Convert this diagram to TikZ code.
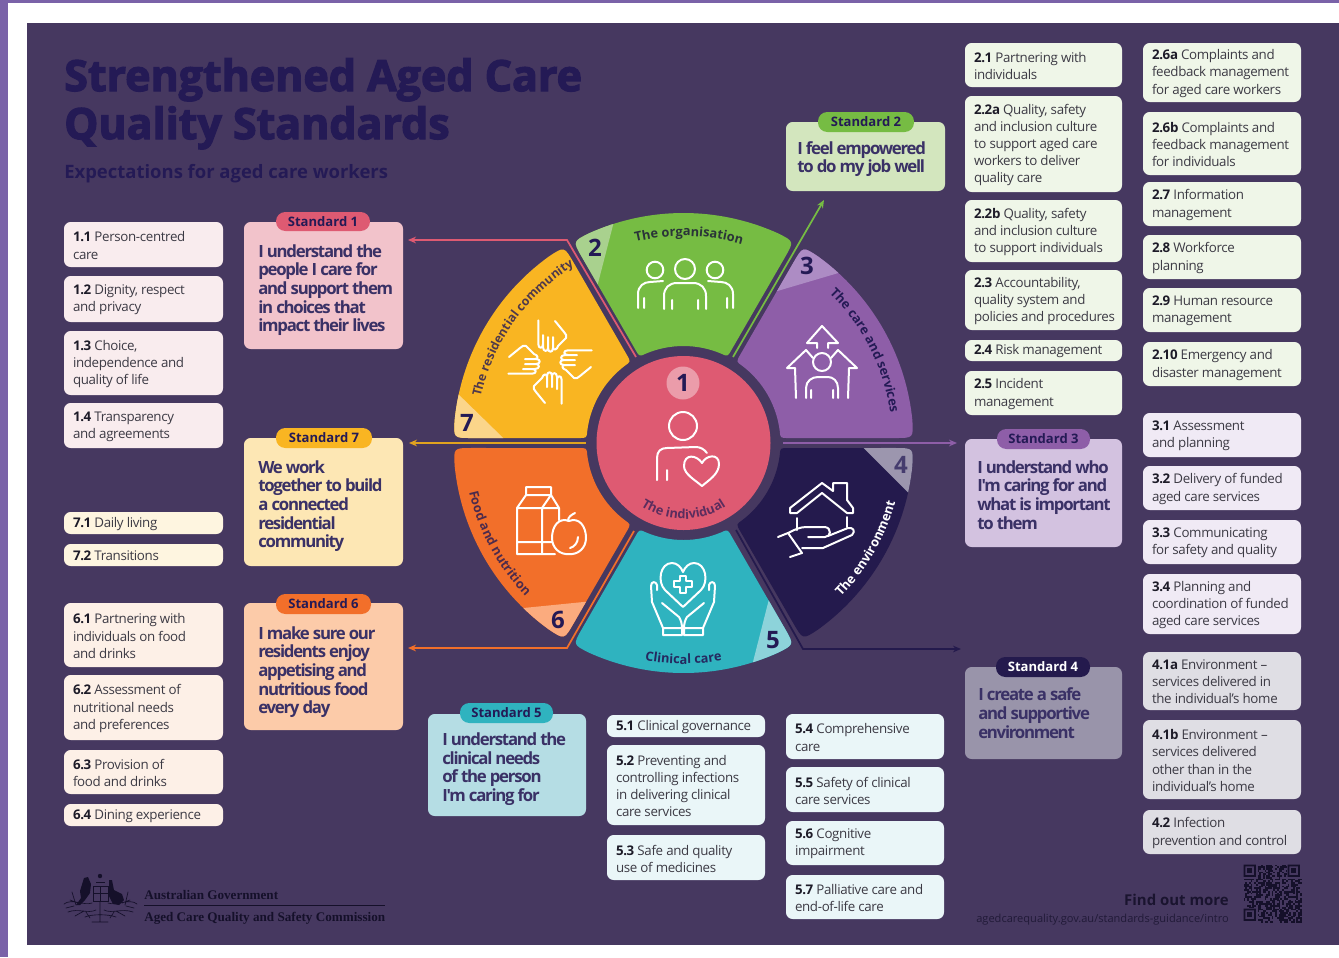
\documentclass[tikz,border=0pt]{standalone}
\usepackage{fontspec}
\setmainfont{Open Sans}[LetterSpace=-2.6]
\newfontfamily\plainf{Open Sans}
\newfontfamily\bigf{Open Sans}[LetterSpace=-7.5]
\newfontfamily\titlef{Open Sans}[FakeBold=3]
\newfontfamily\serifbold{Liberation Serif}
\usetikzlibrary{arrows.meta,decorations.text}
\definecolor{panel}{HTML}{463860}
\definecolor{navy}{HTML}{241A55}
\definecolor{band}{HTML}{7A62A8}
\definecolor{cred}{HTML}{DE5A72}
\definecolor{cgreen}{HTML}{76BC43}
\definecolor{cpurple}{HTML}{8E5EA8}
\definecolor{cyellow}{HTML}{F9B522}
\definecolor{corange}{HTML}{F26F2A}
\definecolor{cteal}{HTML}{2FB3BF}
\definecolor{cdark}{HTML}{241A4D}
\definecolor{lgreen}{HTML}{A9D18E}
\definecolor{lpurple}{HTML}{AD8CC4}
\definecolor{lyellow}{HTML}{FBD58A}
\definecolor{lorange}{HTML}{FBAB7E}
\definecolor{lteal}{HTML}{8DD3DA}
\definecolor{ldark}{HTML}{9C96AE}
\definecolor{bpink}{HTML}{F9ECEE}
\definecolor{byellow}{HTML}{FEF5E0}
\definecolor{bpeach}{HTML}{FDF0E7}
\definecolor{bteal}{HTML}{EAF6F8}
\definecolor{bgreen}{HTML}{EFF6E8}
\definecolor{bpurple}{HTML}{F0EAF5}
\definecolor{bgrey}{HTML}{DFDEE4}
\definecolor{sred}{HTML}{F2C3CB}
\definecolor{syellow}{HTML}{FDE7B4}
\definecolor{sorange}{HTML}{FCCBA9}
\definecolor{steal}{HTML}{B5DDE4}
\definecolor{sgreen}{HTML}{D3E6BE}
\definecolor{spurple}{HTML}{D3C2E0}
\definecolor{sgrey}{HTML}{9994AA}
\definecolor{inkdark}{HTML}{15102A}
\definecolor{smallink}{HTML}{3C3A44}
\definecolor{boldink}{HTML}{1D1B28}
\newcommand\nb[1]{\textcolor{boldink}{\bfseries #1}}
\tikzset{
 boxshape/.style={rounded corners=5pt,inner sep=0pt,draw=none},
 smalltext/.style={inner sep=0pt,align=left,text=smallink,font=\fontsize{10}{12.8}\selectfont},
 bigtext/.style={inner sep=0pt,align=left,text=navy!90!white,font=\bigf\bfseries\fontsize{12.6}{14}\selectfont},
 pilltext/.style={rounded corners=7pt,inner sep=0pt,text=navy,font=\plainf\bfseries\fontsize{9.8}{11}\selectfont},
 numtext/.style={inner sep=0pt,text=navy,font=\plainf\bfseries\fontsize{18}{20}\selectfont},
 icon/.style={draw=white,line width=1.5pt,line cap=round,line join=round},
 conn/.style={line width=1.3pt,-{Stealth[length=6pt,width=5pt]}},
}
\newcommand\tb[7]{%
 \pgfmathsetmacro\bw{(#4-#2)*0.75}\pgfmathsetmacro\bh{(#5-#3)*0.75}%
 \node[boxshape,fill=#6,minimum width=\bw pt,minimum height=\bh pt] (#1) at ({(#2+#4)/2},{(#3+#5)/2}) {};
 \node[smalltext,anchor=west] (#1t) at ([xshift=6.75pt,yshift=-0.75pt]#1.west) {#7};}
\newcommand\stdb[9]{%
 \pgfmathsetmacro\bw{(#4-#2)*0.75}\pgfmathsetmacro\bh{(#5-#3)*0.75}%
 \node[boxshape,fill=#6,minimum width=\bw pt,minimum height=\bh pt] (#1) at ({(#2+#4)/2},{(#3+#5)/2}) {};
 \node[bigtext,anchor=west] (#1t) at (#8,{#9+2}) {#7};}
\newcommand\pill[7]{%
 \pgfmathsetmacro\bw{(#4-#2)*0.75}\pgfmathsetmacro\bh{(#5-#3)*0.75}%
 \node[pilltext,fill=#6,minimum width=\bw pt,minimum height=\bh pt] (#1) at ({(#2+#4)/2},{(#3+#5)/2}) {#7};}
% sector outline with explicitly rounded corners
\newcommand\secpath[1]{({#1-24.25}:230) arc[start angle={#1-24.25},end angle={#1+24.25},radius=230]
 .. controls ({#1+28.75}:230) .. ({#1+28.65}:212) -- ({#1+27.27}:105)
 .. controls ({#1+27.05}:97) .. ({#1+23}:97) arc[start angle={#1+23},end angle={#1-23},radius=97]
 .. controls ({#1-27.05}:97) .. ({#1-27.27}:105) -- ({#1-28.65}:212)
 .. controls ({#1-28.75}:230) .. cycle}
\newcommand\arcsize{9.6}
\newcommand\arctext[5]{\path[decorate,decoration={text along path,text align=center,text={|\plainf\bfseries\fontsize{\arcsize}{11}\selectfont\color{#1}|#2}}] (#3:#5) arc[start angle=#3,end angle=#4,radius=#5];}
\newcommand\onehand{%
 \draw[icon] (-11.7,-41.7)--(-11.7,-18) .. controls (-11.7,-13) and (-7,-13) .. (-7,-18)
   (-7,-27) -- (-7,-15) .. controls (-7,-10) and (-2,-10) .. (-2,-14) -- (-2,-25)
   (-2,-14) .. controls (-2,-9) and (3,-9) .. (3,-14) -- (3,-25)
   (3,-15) .. controls (3,-11) and (7,-12) .. (8,-16) -- (16,-24) .. controls (17,-26) and (16,-28) .. (14,-30) -- (5,-41);}
\begin{document}
\begin{tikzpicture}[x=0.75pt,y=-0.75pt]
\useasboundingbox (0,0) rectangle (1339,957);
\fill[white] (0,0) rectangle (1339,957);
\fill[band] (0,0) rectangle (8,957);
\fill[band] (0,0) rectangle (1339,3);
\fill[panel] (27,23) rectangle (1339,945);
% title
\node[anchor=base west,inner sep=0pt,text=navy,font=\titlef\bfseries\fontsize{32.2}{36}\selectfont] (title1) at (64,91) {Strengthened Aged Care};
\node[anchor=base west,inner sep=0pt,text=navy,font=\titlef\bfseries\fontsize{32.2}{36}\selectfont] (title2) at (64,139) {Quality Standards};
\node[anchor=base west,inner sep=0pt,text=navy,font=\plainf\bfseries\fontsize{13.85}{16}\selectfont] (subtitle) at (64,178) {Expectations for aged care workers};
% wheel
\begin{scope}[shift={(683.5,443)},y=0.75pt]
\fill[cgreen] \secpath{90};
\begin{scope}\clip \secpath{90}; \fill[lgreen] (-59.6,260)--(-100.9,100)--(-300,100)--(-300,260)--cycle; \end{scope}
\fill[cpurple] \secpath{30};
\begin{scope}\clip \secpath{30}; \fill[lpurple] (60,142)--(260,201)--(260,300)--(60,300)--cycle; \end{scope}
\fill[cdark] \secpath{-30};
\begin{scope}\clip \secpath{-30}; \fill[ldark] (170,5)--(260,-85)--(300,-85)--(300,5)--cycle; \end{scope}
\fill[cteal] \secpath{-90};
\begin{scope}\clip \secpath{-90}; \fill[lteal] (94.7,-120)--(59,-260)--(300,-260)--(300,-120)--cycle; \end{scope}
\fill[corange] \secpath{210};
\begin{scope}\clip \secpath{210}; \fill[lorange] (-200,-169)--(-60,-155)--(-60,-300)--(-200,-300)--cycle; \end{scope}
\fill[cyellow] \secpath{150};
\begin{scope}\clip \secpath{150}; \fill[lyellow] (-250,73)--(-170,-5)--(-300,-5)--(-300,73)--cycle; \end{scope}
\fill[cred] (0,0) circle (87);
\arctext{navy!70!cgreen!70!black}{The organisation}{118.5}{58.5}{207}
\renewcommand\arcsize{9.2}
\arctext{navy!80!cyellow}{The residential community}{175}{114}{208}
\renewcommand\arcsize{9.6}
\arctext{navy}{The care and services}{57}{-3}{209}
\arctext{white}{The environment}{-60}{0}{220}
\arctext{navy!90!cteal}{Clinical care}{-115}{-65}{221}
\arctext{navy!80!corange}{Food and nutrition}{178}{239}{220}
\arctext{navy!70!cred}{The individual}{-150}{-30}{76}
\end{scope}
% numbers
\fill[cred!60!white] (683,383) circle (16.5);
\node[numtext] (n1) at (683,383) {1};
\node[numtext] (n2) at (595,248) {2};
\node[numtext] (n3) at (807,266) {3};
\node[numtext,text=navy!85!white] (n4) at (901,465) {4};
\node[numtext] (n5) at (773,640) {5};
\node[numtext] (n6) at (558,620) {6};
\node[numtext] (n7) at (467,423) {7};
% icons: individual
\draw[icon] (683,426) circle (14);
\draw[icon] (657,480)--(657,458) .. controls (657,451) and (661,448) .. (667,448) -- (696,447) .. controls (700,447) and (704,449) .. (707,453) (667,470)--(667,480);
\draw[icon] (702,463) .. controls (697,455) and (684,453) .. (684,466) .. controls (684,474) and (695,480) .. (702,486) .. controls (709,480) and (719,474) .. (719,464) .. controls (719,453) and (706,455) .. (702,463) -- cycle;
% organisation
\draw[icon] (685,269) circle (10) (655,270) circle (8.3) (715,270) circle (8.3);
\draw[icon] (664,309)--(664,296) .. controls (664,288) and (669,283) .. (677,283) -- (693,283) .. controls (701,283) and (706,288) .. (706,296) -- (706,309) (672,300)--(672,309) (698,300)--(698,309);
\draw[icon] (638,308)--(638,294) .. controls (638,286) and (644,282) .. (650,282) -- (663,281) (644,298)--(644,308);
\draw[icon] (733,308)--(733,294) .. controls (733,286) and (727,282) .. (721,282) -- (708,281) (727,298)--(727,308);
% care and services
\draw[icon] (822,362) circle (9);
\draw[icon] (806,398)--(806,388) .. controls (806,381) and (812,377) .. (818,377) -- (828,377) .. controls (833,377) and (838,381) .. (838,388) -- (838,398) (811,390)--(811,398) (833,390)--(833,398);
\draw[icon] (817,348)--(817,343)--(807,343)--(822,326)--(838,343)--(828,343)--(828,348);
\draw[icon] (813,358)--(806,350)--(787,368)--(795,368)--(796,398);
\draw[icon] (831,358)--(838,350)--(857,368)--(849,368)--(848,398);
% hands
\foreach \r in {0,-90,-180,-270} {\begin{scope}[shift={(550,362)},rotate=\r]\onehand\end{scope}}
% food
\draw[icon] (526,495)--(526,487)--(551,487)--(551,495)--cycle (526,495)--(517,508)--(517,554)--(555,554) (551,495)--(559,508)--(559,520) (551,495)--(542,508)--(542,554) (517,508)--(559,508) (517,542)--(552,542);
\draw[icon] (569,521) .. controls (559,517) and (552,526) .. (552,538) .. controls (552,548) and (560,555) .. (569,554) .. controls (578,555) and (586,548) .. (586,538) .. controls (586,526) and (579,517) .. (569,521) -- cycle (568,521) .. controls (568,517) and (571,515) .. (575,513) (570,548) .. controls (574,547) and (578,543) .. (578,537);
% clinical
\draw[icon] (683,607)--(665,590) .. controls (657,582) and (660,563) .. (672,563) .. controls (677,563) and (681,567) .. (683,572) .. controls (685,567) and (689,563) .. (694,563) .. controls (706,563) and (709,582) .. (701,590) -- cycle;
\draw[icon] (680,576)--(686,576)--(686,581)--(692,581)--(692,587)--(686,587)--(686,593)--(680,593)--(680,587)--(674,587)--(674,581)--(680,581)--cycle;
\draw[icon] (657,590)--(657,585) .. controls (656,581) and (651,581) .. (651,586) -- (652,602) -- (663,628) (662,603) -- (679,617) .. controls (681,620) and (682,624) .. (682,628) (663,628)--(682,628)--(682,635)--(663,635)--cycle;
\draw[icon] (709,590)--(709,585) .. controls (710,581) and (715,581) .. (715,586) -- (714,602) -- (703,628) (704,603) -- (687,617) .. controls (685,620) and (684,624) .. (684,628) (703,628)--(684,628)--(684,635)--(703,635)--cycle;
% environment
\draw[icon] (797,513)--(790,513)--(790,508)--(822,483)--(833,491)--(833,483)--(847,483)--(847,500)--(853,508)--(853,513)--(847,513)--(822,493)--cycle;
\draw[icon] (797,518)--(797,530) (847,517)--(847,527);
\draw[icon] (778,537)--(788,533)--(802,553)--(790,557) (788,533) .. controls (796,529) and (800,527) .. (807,527) -- (825,527) .. controls (832,528) and (831,537) .. (825,537) -- (808,537) (828,536) -- (848,528) .. controls (853,527) and (856,531) .. (852,535) -- (823,548) -- (802,548);
% connectors
\coordinate (c1s) at (636,357); \coordinate (c1b) at (567,240); \coordinate (c1e) at (408,240);
\coordinate (c7s) at (586,443); \coordinate (c7e) at (409,443);
\coordinate (c6s) at (634,531); \coordinate (c6b) at (567,648); \coordinate (c6e) at (408,648);
\coordinate (c2s) at (733,357); \coordinate (c2e) at (824,200);
\coordinate (c3s) at (783,443); \coordinate (c3e) at (957,443);
\coordinate (c4s) at (736,530); \coordinate (c4b) at (803,649); \coordinate (c4e) at (961,649);
\draw[conn,cred] (c1s)--(c1b)--(c1e);
\draw[conn,cyellow!90!black] (c7s)--(c7e);
\draw[conn,corange] (c6s)--(c6b)--(c6e);
\draw[conn,cgreen] (c2s)--(c2e);
\draw[conn,cpurple] (c3s)--(c3e);
\draw[conn,cdark] (c4s)--(c4b)--(c4e);
% left column
\tb{b11}{64}{222}{223}{267}{bpink}{\nb{1.1} Person-centred\\care}
\tb{b12}{64}{276}{223}{322}{bpink}{\nb{1.2} Dignity, respect\\and privacy}
\tb{b13}{64}{331}{223}{395}{bpink}{\nb{1.3} Choice,\\independence and\\quality of life}
\tb{b14}{64}{403}{223}{448}{bpink}{\nb{1.4} Transparency\\and agreements}
\tb{b71}{64}{512}{223}{534}{byellow}{\nb{7.1} Daily living}
\tb{b72}{64}{544}{223}{566}{byellow}{\nb{7.2} Transitions}
\tb{b61}{64}{603}{223}{667}{bpeach}{\nb{6.1} Partnering with\\individuals on food\\and drinks}
\tb{b62}{64}{675}{223}{740}{bpeach}{\nb{6.2} Assessment of\\nutritional needs\\and preferences}
\tb{b63}{64}{750}{223}{794}{bpeach}{\nb{6.3} Provision of\\food and drinks}
\tb{b64}{64}{804}{223}{826}{bpeach}{\nb{6.4} Dining experience}
% standards
\stdb{s1}{244}{222}{403}{349}{sred}{I understand the\\people I care for\\and support them\\in choices that\\impact their lives}{258}{288}
\pill{p1}{276}{212}{370}{231}{cred}{Standard 1}
\stdb{s7}{244}{438}{403}{566}{syellow}{We work\\together to build\\a connected\\residential\\community}{258}{504}
\pill{p7}{276}{428}{372}{448}{cyellow}{Standard 7}
\stdb{s6}{244}{603}{403}{730}{sorange}{I make sure our\\residents enjoy\\appetising and\\nutritious food\\every day}{258}{670}
\pill{p6}{276}{594}{371}{614}{corange}{Standard 6}
\stdb{s5}{428}{714}{586}{816}{steal}{I understand the\\clinical needs\\of the person\\I'm caring for}{442}{767}
\pill{p5}{460}{703}{553}{723}{cteal}{Standard 5}
\stdb{s2}{786}{122}{945}{191}{sgreen}{I feel empowered\\to do my job well}{797}{157}
\pill{p2}{818}{112}{914}{132}{cgreen}{Standard 2}
\stdb{s3}{965}{439}{1122}{547}{spurple}{I understand who\\I'm caring for and\\what is important\\to them}{977}{493}
\pill{p3}{997}{429}{1090}{449}{cpurple}{Standard 3}
\stdb{s4}{965}{667}{1122}{759}{sgrey}{I create a safe\\and supportive\\environment}{978}{711}
\pill{p4}{996}{657}{1090}{677}{cdark}{\color{white}Standard 4}
% bottom
\tb{b51}{607}{715}{765}{737}{bteal}{\nb{5.1} Clinical governance}
\tb{b52}{607}{745}{765}{825}{bteal}{\nb{5.2} Preventing and\\controlling infections\\in delivering clinical\\care services}
\tb{b53}{607}{835}{765}{880}{bteal}{\nb{5.3} Safe and quality\\use of medicines}
\tb{b54}{786}{714}{944}{759}{bteal}{\nb{5.4} Comprehensive\\care}
\tb{b55}{786}{767}{944}{812}{bteal}{\nb{5.5} Safety of clinical\\care services}
\tb{b56}{786}{821}{944}{865}{bteal}{\nb{5.6} Cognitive\\impairment}
\tb{b57}{786}{875}{944}{919}{bteal}{\nb{5.7} Palliative care and\\end-of-life care}
% right A
\tb{b21}{965}{43}{1122}{87}{bgreen}{\nb{2.1} Partnering with\\individuals}
\tb{b22a}{965}{96}{1122}{192}{bgreen}{\nb{2.2a} Quality, safety\\and inclusion culture\\to support aged care\\workers to deliver\\quality care}
\tb{b22b}{965}{200}{1122}{262}{bgreen}{\nb{2.2b} Quality, safety\\and inclusion culture\\to support individuals}
\tb{b23}{965}{270}{1122}{330}{bgreen}{\nb{2.3} Accountability,\\quality system and\\policies and procedures}
\tb{b24}{965}{340}{1122}{361}{bgreen}{\nb{2.4} Risk management}
\tb{b25}{965}{371}{1122}{415}{bgreen}{\nb{2.5} Incident\\management}
% right B
\tb{b26a}{1143}{43}{1301}{102}{bgreen}{\nb{2.6a} Complaints and\\feedback management\\for aged care workers}
\tb{b26b}{1143}{112}{1301}{175}{bgreen}{\nb{2.6b} Complaints and\\feedback management\\for individuals}
\tb{b27}{1143}{182}{1301}{226}{bgreen}{\nb{2.7} Information\\management}
\tb{b28}{1143}{235}{1301}{279}{bgreen}{\nb{2.8} Workforce\\planning}
\tb{b29}{1143}{288}{1301}{332}{bgreen}{\nb{2.9} Human resource\\management}
\tb{b210}{1143}{342}{1301}{386}{bgreen}{\nb{2.10} Emergency and\\disaster management}
\tb{b31}{1143}{413}{1301}{457}{bpurple}{\nb{3.1} Assessment\\and planning}
\tb{b32}{1143}{466}{1301}{510}{bpurple}{\nb{3.2} Delivery of funded\\aged care services}
\tb{b33}{1143}{520}{1301}{564}{bpurple}{\nb{3.3} Communicating\\for safety and quality}
\tb{b34}{1143}{574}{1301}{634}{bpurple}{\nb{3.4} Planning and\\coordination of funded\\aged care services}
\tb{b41a}{1143}{652}{1301}{710}{bgrey}{\nb{4.1a} Environment –\\services delivered in\\the individual's home}
\tb{b41b}{1143}{720}{1301}{799}{bgrey}{\nb{4.1b} Environment –\\services delivered\\other than in the\\individual's home}
\tb{b42}{1143}{810}{1301}{854}{bgrey}{\nb{4.2} Infection\\prevention and control}
% footer
\node[anchor=base west,inner sep=0pt,text=inkdark,font=\serifbold\bfseries\fontsize{9.85}{11}\selectfont] (gov) at (144,899) {Australian Government};
\node[anchor=base west,inner sep=0pt,text=inkdark,font=\serifbold\bfseries\fontsize{9.85}{11}\selectfont] (comm) at (144,921) {Aged Care Quality and Safety Commission};
\draw[inkdark,line width=0.5pt] (144,905)--(385,905);
% crest
\fill[inkdark] (100,876) circle (2.2);
\fill[inkdark] (84,878)--(88,877)--(91,884)--(90,893)--(85,900)--(80,905)--(76,905)--(81,898)--(80,891)--cycle;
\fill[inkdark] (109,880)--(112,880)--(114,890)--(122,894)--(124,900)--(119,905)--(113,904)--(109,896)--cycle;
\draw[inkdark,line width=0.4pt] (93,886) rectangle (108,901) (93,893.5)--(108,893.5) (100,886)--(100,901) (96,882)--(105,882);
\draw[inkdark,line width=0.5pt,line cap=round] (64,904) .. controls (72,898) and (84,906) .. (92,903) (137,904) .. controls (130,898) and (116,906) .. (108,903)
 (68,912) .. controls (78,908) and (88,914) .. (96,910) (133,912) .. controls (122,908) and (112,914) .. (104,910)
 (66,908) -- (74,906) (70,900) -- (78,903) (134,908) -- (126,906) (130,900) -- (122,903)
 (75,916) -- (84,911) (125,916) -- (116,911) (86,912) -- (90,918) (114,912) -- (110,918)
 (85,917) .. controls (92,914) and (108,914) .. (116,917) (92,922) -- (108,922) (100,902)--(100,922)
 (72,892) -- (76,905) (128,892) -- (125,905);
\node[anchor=base east,inner sep=0pt,text=inkdark!90!panel,font=\plainf\bfseries\fontsize{11.2}{13}\selectfont] (find) at (1229,905) {Find out more};
\node[anchor=base east,inner sep=0pt,text=inkdark!75!panel,font=\plainf\fontsize{8.3}{10}\selectfont] (url) at (1229,922) {agedcarequality.gov.au/standards-guidance/intro};
% QR
\begin{scope}[shift={(1243.5,864.5)},x=1.32pt,y=-1.32pt]
\pgfmathsetseed{11}
\foreach \i in {0,...,32}{\foreach \j in {0,...,32}{\pgfmathsetmacro\qq{rnd}\ifdim\qq pt<0.52pt \fill[inkdark] (\i,\j) rectangle ++(1,1);\fi}}
\foreach \px/\py in {0/0,25/0,0/25}{
 \fill[panel] (\px-0.5,\py-0.5) rectangle ++(8.5,8.5);
 \fill[inkdark,even odd rule] (\px,\py) rectangle ++(7,7) (\px+1,\py+1) rectangle ++(5,5);
 \fill[inkdark] (\px+2,\py+2) rectangle ++(3,3);}
\end{scope}
\end{tikzpicture}
\end{document}
